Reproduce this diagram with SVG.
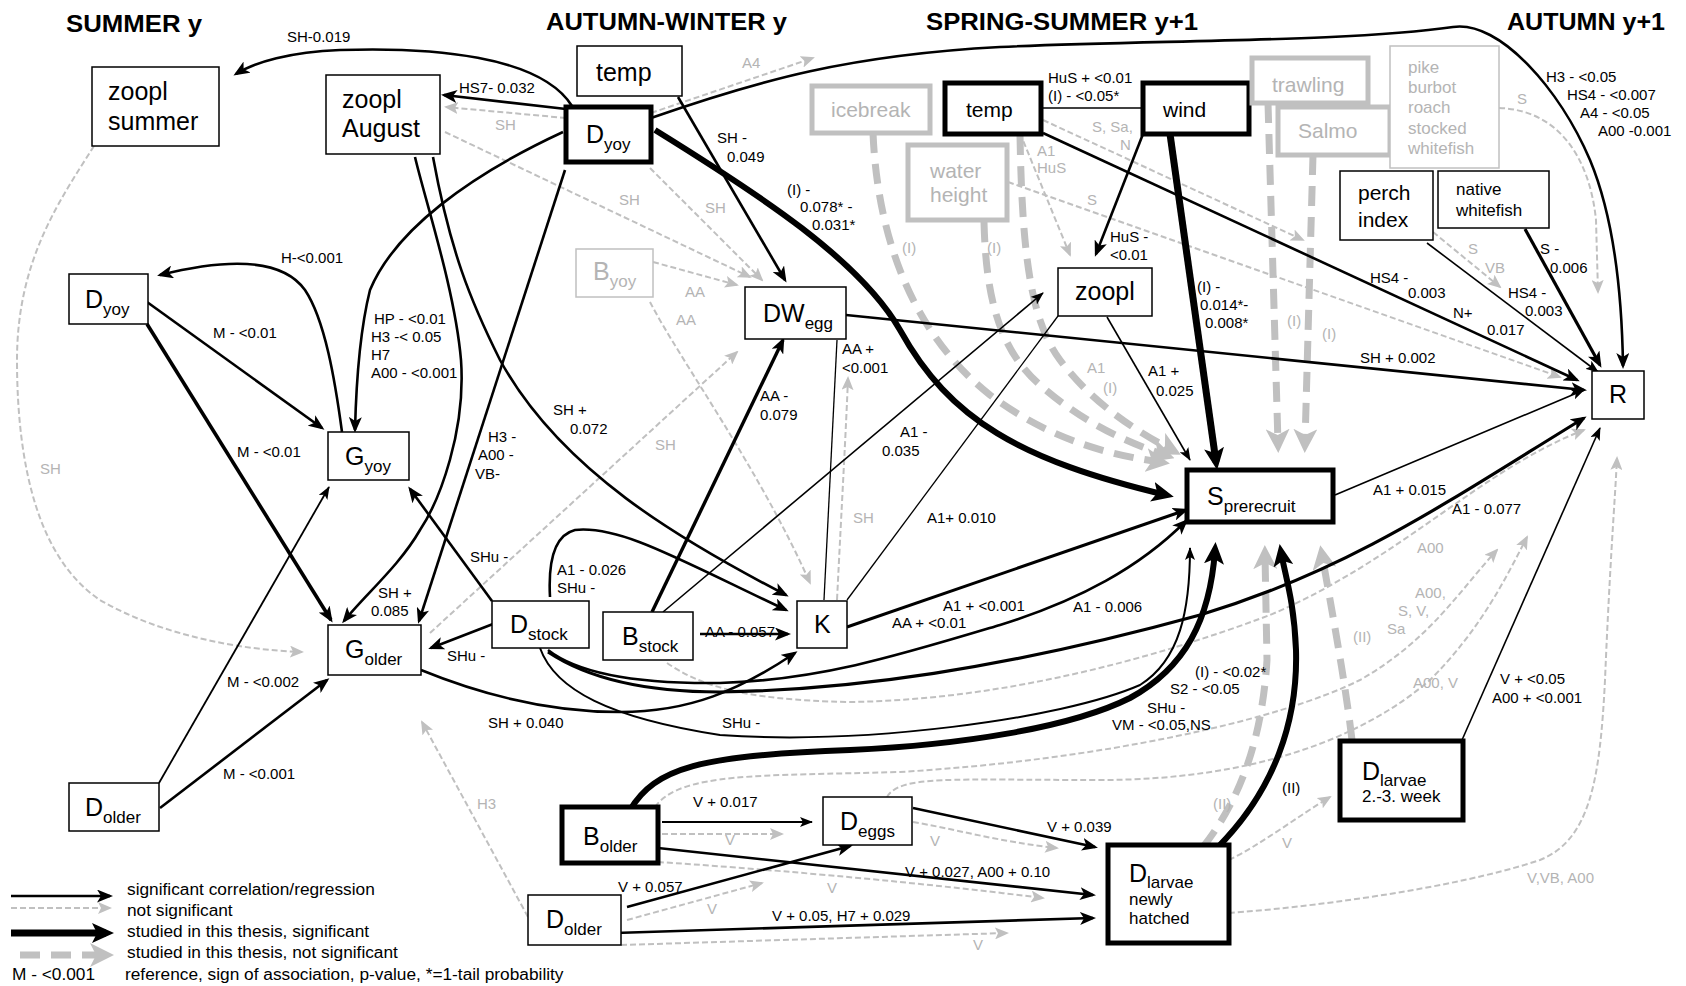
<svg xmlns="http://www.w3.org/2000/svg" width="1686" height="986" viewBox="0 0 1686 986">
<defs>
<style>
text{font-family:"Liberation Sans",Arial,sans-serif;fill:#000}
.h{font-size:24px;font-weight:bold}
.nl{font-size:25px}
.nm{font-size:21px}
.ns{font-size:17px}
.sub{font-size:17px}
.lb{font-size:15px}
.lg{font-size:15px;fill:#b4b4b4}
.gx{fill:#b4b4b4}
.leg{font-size:17.3px}
.box{fill:#fff;stroke:#000;stroke-width:1.5}
.bx{fill:#fff;stroke:#000;stroke-width:5}
.gb{fill:#fff;stroke:#c0c0c0;stroke-width:5}
.gt{fill:#fff;stroke:#c0c0c0;stroke-width:1.5}
.s0{fill:none;stroke:#000;stroke-width:1.3}
.s1{fill:none;stroke:#000;stroke-width:1.6;marker-end:url(#a1)}
.s2{fill:none;stroke:#000;stroke-width:2.6;marker-end:url(#a2)}
.s3{fill:none;stroke:#000;stroke-width:6;marker-end:url(#a3)}
.n{fill:none;stroke:#c0c0c0;stroke-width:2;stroke-dasharray:6 3;marker-end:url(#an)}
.g{fill:none;stroke:#c0c0c0;stroke-width:7;stroke-dasharray:20 11;marker-end:url(#ag)}
</style>
<marker id="a1" viewBox="0 0 13 10" refX="12" refY="5" markerWidth="13" markerHeight="10" markerUnits="userSpaceOnUse" orient="auto"><path d="M0,0 L13,5 L0,10 L3,5 z" fill="#000"/></marker>
<marker id="a2" viewBox="0 0 16 13" refX="13" refY="6.5" markerWidth="16" markerHeight="13" markerUnits="userSpaceOnUse" orient="auto"><path d="M0,0 L16,6.5 L0,13 L4,6.5 z" fill="#000"/></marker>
<marker id="a3" viewBox="0 0 22 20" refX="14" refY="10" markerWidth="22" markerHeight="20" markerUnits="userSpaceOnUse" orient="auto"><path d="M0,0 L22,10 L0,20 L5,10 z" fill="#000"/></marker>
<marker id="an" viewBox="0 0 14 12" refX="12" refY="6" markerWidth="14" markerHeight="12" markerUnits="userSpaceOnUse" orient="auto"><path d="M0,0 L14,6 L0,12 L3,6 z" fill="#c0c0c0"/></marker>
<marker id="ag" viewBox="0 0 24 24" refX="14" refY="12" markerWidth="24" markerHeight="24" markerUnits="userSpaceOnUse" orient="auto"><path d="M0,0 L24,12 L0,24 L6,12 z" fill="#c0c0c0"/></marker>
</defs>
<rect width="1686" height="986" fill="#fff"/>

<g id="headers">
<text class="h" x="66" y="32" textLength="136" lengthAdjust="spacingAndGlyphs">SUMMER y</text>
<text class="h" x="546" y="30" textLength="241" lengthAdjust="spacingAndGlyphs">AUTUMN-WINTER y</text>
<text class="h" x="926" y="30" textLength="272" lengthAdjust="spacingAndGlyphs">SPRING-SUMMER y+1</text>
<text class="h" x="1507" y="30" textLength="158" lengthAdjust="spacingAndGlyphs">AUTUMN y+1</text>
</g>

<g id="connectors">
<!-- gray not significant thin -->
<path class="n" d="M94,146 C60,200 17,260 17,360 C17,470 40,560 100,600 C160,635 240,650 302,652"/>
<path class="n" d="M566,118 L446,107"/>
<path class="n" d="M651,113 L813,58"/>
<path class="n" d="M650,168 L762,280"/>
<path class="n" d="M445,132 L750,277"/>
<path class="n" d="M653,262 L737,285"/>
<path class="n" d="M650,302 C680,360 760,470 810,583"/>
<path class="n" d="M837,600 C842,500 846,430 848,378"/>
<path class="n" d="M430,633 L737,352"/>
<path class="n" d="M528,917 L422,722"/>
<path class="n" d="M662,834 L782,834"/>
<path class="n" d="M658,862 C750,868 900,880 1043,898"/>
<path class="n" d="M627,920 L762,883"/>
<path class="n" d="M621,945 L1007,933"/>
<path class="n" d="M913,822 C950,828 1000,842 1057,848"/>
<path class="n" d="M667,663 C700,685 740,700 850,702 C1000,700 1150,660 1270,615 C1400,560 1480,470 1584,430"/>
<path class="n" d="M655,807 C680,772 760,776 900,772 C1100,760 1280,720 1360,680 C1430,640 1460,590 1497,550"/>
<path class="n" d="M887,797 C900,775 950,780 1100,780 C1250,780 1360,740 1430,680 C1480,630 1505,580 1527,537"/>
<path class="n" d="M1229,860 C1260,845 1300,815 1330,797"/>
<path class="n" d="M1229,913 C1300,908 1450,890 1540,860 C1590,840 1600,780 1605,680 C1610,560 1615,500 1617,458"/>
<path class="n" d="M1499,108 C1560,110 1590,160 1596,220 L1598,292"/>
<path class="n" d="M1043,120 L1303,240"/>
<path class="n" d="M1008,182 L1560,377"/>
<path class="n" d="M1020,133 L1070,255"/>
<path class="n" d="M1433,232 L1500,287"/>

<!-- gray thick: studied, not significant -->
<path class="g" d="M873,133 C878,250 920,340 990,395 C1050,440 1110,455 1160,462"/>
<path class="g" d="M984,222 C986,300 1000,350 1040,385 C1080,420 1120,440 1165,455"/>
<path class="g" d="M1020,135 C1022,250 1030,320 1060,360 C1090,400 1130,428 1172,450"/>
<path class="g" d="M1268,103 L1278,443"/>
<path class="g" d="M1313,155 L1305,443"/>
<path class="g" d="M1203,847 C1240,800 1262,740 1267,660 L1265,555"/>
<path class="g" d="M1352,740 C1345,680 1330,600 1322,555"/>

<!-- black significant -->
<path class="s2" d="M572,106 C540,55 430,47 340,50 C290,52 255,62 236,74"/>
<path class="s2" d="M566,109 L444,95"/>
<path class="s2" d="M651,118 C760,80 850,55 1000,47 C1150,40 1350,42 1453,27 C1500,20 1560,90 1590,160 C1615,220 1622,300 1623,366"/>
<path class="s2" d="M678,97 L785,280"/>
<path class="s2" d="M433,157 C450,250 470,300 500,360 C560,470 680,540 786,595"/>
<path class="s2" d="M565,170 L419,621"/>
<path class="s2" d="M563,132 C470,175 395,230 370,290 C360,330 356,390 355,430"/>
<path class="s2" d="M342,432 C335,380 325,320 305,290 C285,262 240,255 160,275"/>
<path class="s2" d="M147,302 L322,428"/>
<path class="s2" style="stroke-width:3.6" d="M147,324 L331,620"/>
<path class="s1" style="stroke-width:1.8" d="M159,783 L329,487"/>
<path class="s2" d="M160,808 L327,680"/>
<path class="s2" d="M415,157 C425,200 455,290 461,360 C466,430 440,500 420,530 C400,565 365,595 344,621"/>
<path class="s2" d="M492,601 L410,489"/>
<path class="s2" d="M493,624 L431,648"/>
<path class="s2" d="M421,670 C470,690 540,712 620,712 C690,712 740,690 795,653"/>
<path class="s2" d="M550,597 C548,560 555,535 575,530 C620,525 680,560 786,610"/>
<path class="s2" d="M700,634 L788,634"/>
<path class="s2" style="stroke-width:3.4" d="M652,612 L783,340"/>
<path class="s1" d="M663,612 L1043,293"/>
<path class="s0" d="M824,600 L837,340"/>
<path class="s0" d="M847,600 L1058,316"/>
<path class="s1" d="M1107,317 L1190,460"/>
<path class="s2" d="M1143,134 L1096,254"/>
<path class="s0" d="M1043,108 L1143,108"/>
<path class="s2" d="M1043,133 L1577,380"/>
<path class="s1" d="M1427,243 L1598,372"/>
<path class="s2" style="stroke-width:3.2" d="M1525,229 L1600,365"/>
<path class="s1" d="M1335,495 L1584,390"/>
<path class="s2" d="M846,315 L1584,390"/>
<path class="s2" d="M548,650 C580,675 640,684 720,683 C820,680 900,655 1000,625 C1080,600 1140,567 1186,521"/>
<path class="s2" style="stroke-width:3.2" d="M548,652 C590,680 650,692 720,692 C850,690 1000,670 1200,615 C1350,570 1450,500 1584,418"/>
<path class="s1" style="stroke-width:2" d="M540,648 C555,690 610,718 720,735 C860,745 1060,720 1140,685 C1180,660 1190,610 1190,548"/>
<path class="s2" style="stroke-width:3" d="M847,627 L1186,510"/>
<path class="s1" d="M1462,740 L1600,428"/>
<path class="s1" style="stroke-width:1.8" d="M662,822 L812,822"/>
<path class="s2" d="M658,848 L1093,895"/>
<path class="s2" d="M627,907 L850,846"/>
<path class="s2" d="M615,933 L1093,918"/>
<path class="s2" d="M913,808 L1095,847"/>

<!-- black thick: studied, significant -->
<path class="s3" d="M655,130 C760,195 860,260 900,330 C950,420 1020,460 1166,495"/>
<path class="s3" style="stroke-width:7" d="M1170,134 L1216,462"/>
<path class="s3" d="M630,810 C655,768 700,755 850,750 C960,745 1070,728 1130,698 C1185,668 1210,620 1215,550"/>
<path class="s3" d="M1217,848 C1275,790 1298,720 1296,650 C1294,600 1285,575 1281,552"/>
</g>

<g id="labels">
<text class="lb" x="287" y="42">SH-0.019</text>
<text class="lb" x="459" y="93">HS7- 0.032</text>
<text class="lg" x="495" y="130">SH</text>
<text class="lg" x="742" y="68">A4</text>
<text class="lb" x="717" y="143">SH -</text>
<text class="lb" x="727" y="162">0.049</text>
<text class="lb" x="787" y="195">(I) -</text>
<text class="lb" x="800" y="212">0.078* -</text>
<text class="lb" x="812" y="230">0.031*</text>
<text class="lg" x="619" y="205">SH</text>
<text class="lg" x="705" y="213">SH</text>
<text class="lg" x="685" y="297">AA</text>
<text class="lg" x="676" y="325">AA</text>
<text class="lb" x="1546" y="82">H3 - &lt;0.05</text>
<text class="lb" x="1567" y="100">HS4 - &lt;0.007</text>
<text class="lb" x="1580" y="118">A4 - &lt;0.05</text>
<text class="lb" x="1598" y="136">A00 -0.001</text>
<text class="lb" x="281" y="263">H-&lt;0.001</text>
<text class="lb" x="374" y="324">HP - &lt;0.01</text>
<text class="lb" x="371" y="342">H3 -&lt; 0.05</text>
<text class="lb" x="371" y="360">H7</text>
<text class="lb" x="371" y="378">A00 - &lt;0.001</text>
<text class="lb" x="213" y="338">M - &lt;0.01</text>
<text class="lb" x="237" y="457">M - &lt;0.01</text>
<text class="lb" x="227" y="687">M - &lt;0.002</text>
<text class="lb" x="223" y="779">M - &lt;0.001</text>
<text class="lg" x="40" y="474">SH</text>
<text class="lb" x="553" y="415">SH +</text>
<text class="lb" x="570" y="434">0.072</text>
<text class="lb" x="488" y="442">H3 -</text>
<text class="lb" x="478" y="460">A00 -</text>
<text class="lb" x="475" y="479">VB-</text>
<text class="lb" x="378" y="598">SH +</text>
<text class="lb" x="371" y="616">0.085</text>
<text class="lb" x="470" y="562">SHu -</text>
<text class="lb" x="447" y="661">SHu -</text>
<text class="lb" x="488" y="728">SH + 0.040</text>
<text class="lb" x="557" y="575">A1 - 0.026</text>
<text class="lb" x="557" y="593">SHu -</text>
<text class="lb" x="705" y="637">AA - 0.057</text>
<text class="lb" x="760" y="401">AA -</text>
<text class="lb" x="760" y="420">0.079</text>
<text class="lg" x="655" y="450">SH</text>
<text class="lb" x="900" y="437">A1 -</text>
<text class="lb" x="882" y="456">0.035</text>
<text class="lb" x="842" y="354">AA +</text>
<text class="lb" x="842" y="373">&lt;0.001</text>
<text class="lg" x="853" y="523">SH</text>
<text class="lb" x="927" y="523">A1+ 0.010</text>
<text class="lb" x="1148" y="376">A1 +</text>
<text class="lb" x="1156" y="396">0.025</text>
<text class="lg" x="1087" y="373">A1</text>
<text class="lg" x="1103" y="393">(I)</text>
<text class="lb" x="1197" y="292">(I) -</text>
<text class="lb" x="1200" y="310">0.014*-</text>
<text class="lb" x="1205" y="328">0.008*</text>
<text class="lb" x="1110" y="242">HuS -</text>
<text class="lb" x="1110" y="260">&lt;0.01</text>
<text class="lb" x="1048" y="83">HuS + &lt;0.01</text>
<text class="lb" x="1048" y="101">(I) - &lt;0.05*</text>
<text class="lg" x="1092" y="132">S, Sa,</text>
<text class="lg" x="1120" y="150">N</text>
<text class="lg" x="1037" y="156">A1</text>
<text class="lg" x="1037" y="173">HuS</text>
<text class="lg" x="1087" y="205">S</text>
<text class="lg" x="902" y="253">(I)</text>
<text class="lg" x="987" y="253">(I)</text>
<text class="lg" x="1287" y="326">(I)</text>
<text class="lg" x="1322" y="339">(I)</text>
<text class="lg" x="1517" y="104">S</text>
<text class="lg" x="1468" y="254">S</text>
<text class="lg" x="1485" y="273">VB</text>
<text class="lb" x="1370" y="283">HS4 -</text>
<text class="lb" x="1408" y="298">0.003</text>
<text class="lb" x="1453" y="318">N+</text>
<text class="lb" x="1487" y="335">0.017</text>
<text class="lb" x="1508" y="298">HS4 -</text>
<text class="lb" x="1525" y="316">0.003</text>
<text class="lb" x="1540" y="254">S -</text>
<text class="lb" x="1550" y="273">0.006</text>
<text class="lb" x="1360" y="363">SH + 0.002</text>
<text class="lb" x="1373" y="495">A1 + 0.015</text>
<text class="lb" x="1452" y="514">A1 - 0.077</text>
<text class="lg" x="1417" y="553">A00</text>
<text class="lg" x="1415" y="598">A00,</text>
<text class="lg" x="1398" y="616">S, V,</text>
<text class="lg" x="1387" y="634">Sa</text>
<text class="lg" x="1413" y="688">A00, V</text>
<text class="lg" x="1353" y="642">(II)</text>
<text class="lg" x="1213" y="809">(II)</text>
<text class="lb" x="1282" y="793">(II)</text>
<text class="lb" x="943" y="611">A1 + &lt;0.001</text>
<text class="lb" x="892" y="628">AA + &lt;0.01</text>
<text class="lb" x="1073" y="612">A1 - 0.006</text>
<text class="lb" x="722" y="728">SHu -</text>
<text class="lb" x="1195" y="677">(I) - &lt;0.02*</text>
<text class="lb" x="1170" y="694">S2 - &lt;0.05</text>
<text class="lb" x="1147" y="713">SHu -</text>
<text class="lb" x="1112" y="730">VM - &lt;0.05,NS</text>
<text class="lb" x="1500" y="684">V + &lt;0.05</text>
<text class="lb" x="1492" y="703">A00 + &lt;0.001</text>
<text class="lg" x="1527" y="883">V,VB, A00</text>
<text class="lg" x="1282" y="848">V</text>
<text class="lb" x="693" y="807">V + 0.017</text>
<text class="lg" x="725" y="845">V</text>
<text class="lb" x="905" y="877">V + 0.027, A00 + 0.10</text>
<text class="lg" x="827" y="893">V</text>
<text class="lb" x="618" y="892">V + 0.057</text>
<text class="lg" x="707" y="914">V</text>
<text class="lb" x="772" y="921">V + 0.05, H7 + 0.029</text>
<text class="lg" x="973" y="950">V</text>
<text class="lb" x="1047" y="832">V + 0.039</text>
<text class="lg" x="930" y="846">V</text>
<text class="lg" x="477" y="809">H3</text>
</g>

<g id="zoopl-summer"><rect class="box" x="92" y="67" width="127" height="79"/><text class="nl" x="108" y="100">zoopl</text><text class="nl" x="108" y="130">summer</text></g>
<g id="zoopl-august"><rect class="box" x="326" y="75" width="114" height="79"/><text class="nl" x="342" y="108">zoopl</text><text class="nl" x="342" y="137">August</text></g>
<g id="temp-autumn"><rect class="box" x="577" y="46" width="105" height="50"/><text class="nl" x="596" y="81">temp</text></g>
<g id="dyoy-autumn"><rect class="bx" x="566" y="107" width="85" height="55"/><text class="nl" x="586" y="143">D<tspan class="sub" dy="7">yoy</tspan></text></g>
<g id="dyoy-summer"><rect class="box" x="69" y="274" width="79" height="50"/><text class="nl" x="85" y="308">D<tspan class="sub" dy="7">yoy</tspan></text></g>
<g id="gyoy"><rect class="box" x="328" y="432" width="81" height="48"/><text class="nl" x="345" y="465">G<tspan class="sub" dy="7">yoy</tspan></text></g>
<g id="golder"><rect class="box" x="328" y="625" width="93" height="50"/><text class="nl" x="345" y="658">G<tspan class="sub" dy="7">older</tspan></text></g>
<g id="dolder-summer"><rect class="box" x="69" y="783" width="90" height="48"/><text class="nl" x="85" y="816">D<tspan class="sub" dy="7">older</tspan></text></g>
<g id="byoy"><rect class="gt" x="576" y="249" width="77" height="48"/><text class="nl gx" x="593" y="280">B<tspan class="sub gx" dy="7">yoy</tspan></text></g>
<g id="dwegg"><rect class="box" x="745" y="287" width="101" height="52"/><text class="nl" x="763" y="322">DW<tspan class="sub" dy="7">egg</tspan></text></g>
<g id="dstock"><rect class="box" x="492" y="601" width="97" height="47"/><text class="nl" x="510" y="633">D<tspan class="sub" dy="7">stock</tspan></text></g>
<g id="bstock"><rect class="box" x="603" y="612" width="90" height="48"/><text class="nl" x="622" y="645">B<tspan class="sub" dy="7">stock</tspan></text></g>
<g id="k"><rect class="box" x="797" y="601" width="50" height="47"/><text class="nl" x="814" y="633">K</text></g>
<g id="bolder"><rect class="bx" x="562" y="807" width="96" height="56"/><text class="nl" x="583" y="845">B<tspan class="sub" dy="7">older</tspan></text></g>
<g id="dolder"><rect class="box" x="528" y="895" width="93" height="50"/><text class="nl" x="546" y="928">D<tspan class="sub" dy="7">older</tspan></text></g>
<g id="deggs"><rect class="box" x="823" y="797" width="89" height="48"/><text class="nl" x="840" y="830">D<tspan class="sub" dy="7">eggs</tspan></text></g>
<g id="dlarvae-newly"><rect class="bx" x="1108" y="845" width="121" height="98"/><text class="nl" x="1129" y="882">D<tspan class="sub" dy="6">larvae</tspan></text><text class="ns" x="1129" y="905">newly</text><text class="ns" x="1129" y="924">hatched</text></g>
<g id="dlarvae-week"><rect class="bx" x="1340" y="741" width="123" height="79"/><text class="nl" x="1362" y="780">D<tspan class="sub" dy="6">larvae</tspan></text><text class="ns" x="1362" y="802">2.-3. week</text></g>
<g id="sprerecruit"><rect class="bx" x="1187" y="470" width="146" height="52"/><text class="nl" x="1207" y="505">S<tspan class="sub" dy="7">prerecruit</tspan></text></g>
<g id="r"><rect class="box" x="1592" y="371" width="52" height="48"/><text class="nl" x="1609" y="403">R</text></g>
<g id="zoopl-spring"><rect class="box" x="1058" y="268" width="94" height="48"/><text class="nl" x="1075" y="300">zoopl</text></g>
<g id="temp-spring"><rect class="bx" x="945" y="83" width="96" height="51"/><text class="nm" x="966" y="117">temp</text></g>
<g id="wind"><rect class="bx" x="1143" y="83" width="106" height="51"/><text class="nm" x="1163" y="117">wind</text></g>
<g id="icebreak"><rect class="gb" x="812" y="86" width="118" height="47"/><text class="nm gx" x="831" y="117">icebreak</text></g>
<g id="water-height"><rect class="gb" x="908" y="145" width="99" height="75"/><text class="nm gx" x="930" y="178">water</text><text class="nm gx" x="930" y="202">height</text></g>
<g id="trawling"><rect class="gb" x="1252" y="58" width="116" height="45"/><text class="nm gx" x="1272" y="92">trawling</text></g>
<g id="salmo"><rect class="gb" x="1278" y="107" width="112" height="48"/><text class="nm gx" x="1298" y="138">Salmo</text></g>
<g id="predators"><rect class="gt" x="1390" y="46" width="109" height="122"/><text class="ns gx" x="1408" y="73">pike</text><text class="ns gx" x="1408" y="93">burbot</text><text class="ns gx" x="1408" y="113">roach</text><text class="ns gx" x="1408" y="134">stocked</text><text class="ns gx" x="1408" y="154">whitefish</text></g>
<g id="perch-index"><rect class="box" x="1340" y="171" width="93" height="69"/><text class="nm" x="1358" y="200">perch</text><text class="nm" x="1358" y="227">index</text></g>
<g id="native-whitefish"><rect class="box" x="1438" y="171" width="111" height="57"/><text class="ns" x="1456" y="195">native</text><text class="ns" x="1456" y="216">whitefish</text></g>

<g id="legend">
<path class="s2" d="M11,896 L110,896"/>
<path class="n" d="M11,908 L110,908"/>
<path class="s3" style="stroke-width:7" d="M11,933 L106,933"/>
<path class="g" d="M20,955 L104,955"/>
<text class="leg" x="127" y="895">significant correlation/regression</text>
<text class="leg" x="127" y="916">not significant</text>
<text class="leg" x="127" y="937">studied in this thesis, significant</text>
<text class="leg" x="127" y="958">studied in this thesis, not significant</text>
<text class="leg" x="12" y="980">M - &lt;0.001</text>
<text class="leg" x="125" y="980">reference, sign of association, p-value, *=1-tail probability</text>
</g>
</svg>
